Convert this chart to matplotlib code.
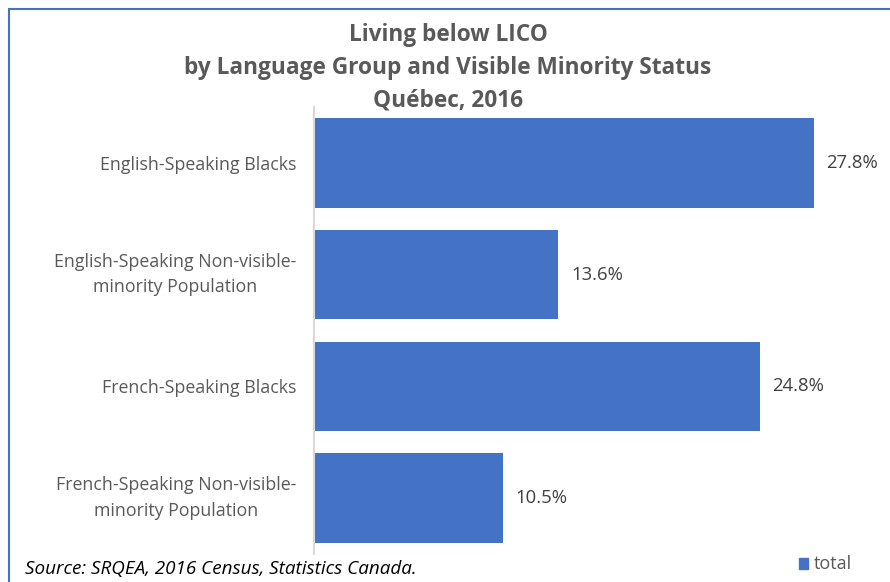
import matplotlib.pyplot as plt
from matplotlib.patches import Rectangle

categories = ["English-Speaking Blacks",
              "English-Speaking Non-visible-\nminority Population",
              "French-Speaking Blacks",
              "French-Speaking Non-visible-\nminority Population"]
values = [27.8, 13.6, 24.8, 10.5]
series_name = "total"

W, H = 890, 582
fig = plt.figure(figsize=(W / 100, H / 100), dpi=100)
plt.rcParams['font.family'] = ['Open Sans', 'DejaVu Sans']

# chart border (blue frame, cut off right and bottom)
fig.patches.append(Rectangle((9 / W, -0.05), 1.1, (H - 9) / H + 0.05, transform=fig.transFigure,
                             fill=False, edgecolor='#4472C4', linewidth=1.5))

ax = fig.add_axes([314 / W, 1 - 554 / H, (889 - 314) / W, (554 - 107) / H])
y = list(range(len(categories)))
ax.barh(y, values, height=0.8, color='#4472C4')
ax.set_xlim(0, 32)
ax.set_ylim(len(categories) - 0.5, -0.5)
ax.set_yticks(y)
ax.set_yticklabels(categories, fontsize=12.8, color='#595959', ha='right', multialignment='center')
for lbl in ax.get_yticklabels():
    lbl.set_linespacing(1.55)
    if "\n" in lbl.get_text():
        lbl.set_va('center')
ax.tick_params(axis='y', length=0, pad=13)
ax.set_xticks([])
for s in ['top', 'right', 'bottom']:
    ax.spines[s].set_visible(False)
ax.spines['left'].set_color('#d9d9d9')
ax.spines['left'].set_linewidth(1.5)

for yi, v in zip(y, values):
    ax.text(v + 0.7, yi, f"{v:.1f}%", va='center', ha='left', fontsize=13.3, color='#404040')

fig.text(448 / W, 1 - 68 / H, "Living below LICO\nby Language Group and Visible Minority Status\nQuébec, 2016",
         ha='center', va='center', fontsize=16.3, fontweight='bold', color='#595959', linespacing=1.5)

fig.text(25 / W, 1 - 569 / H, "Source: SRQEA, 2016 Census, Statistics Canada.",
         ha='left', va='center', fontsize=13.6, style='italic', color='black')

fig.patches.append(Rectangle((799 / W, 1 - 569 / H), 9 / W, 11 / H, transform=fig.transFigure,
                             color='#4472C4'))
fig.text(814 / W, 1 - 564 / H, series_name, ha='left', va='center', fontsize=13, color='#595959')

fig.savefig("out.png", dpi=100)
